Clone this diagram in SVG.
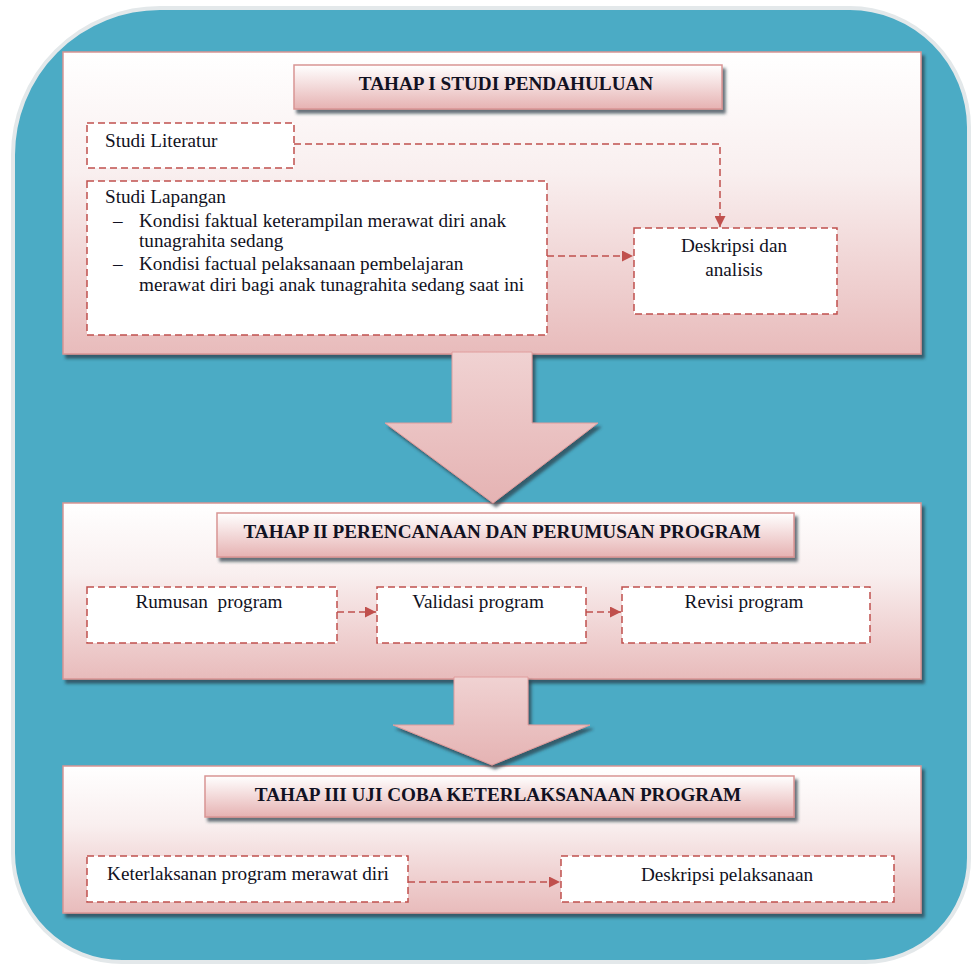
<svg xmlns="http://www.w3.org/2000/svg" width="973" height="972" viewBox="0 0 973 972">
<style>
.panel{fill:url(#gPanel);stroke:#D99594;stroke-width:1.5;filter:url(#sh)}
.title{fill:url(#gTitle);stroke:#D99594;stroke-width:1.5;filter:url(#sh)}
.box{fill:#FFFFFF;stroke:#C0504D;stroke-width:1.5;stroke-dasharray:7 4}
.big{fill:url(#gArrow);stroke:#E09C9C;stroke-width:1;filter:url(#sh)}
.conn{fill:none;stroke:#C0504D;stroke-width:1.5;stroke-dasharray:7 4;marker-end:url(#ah)}
text{font-family:"Liberation Serif","Times New Roman",serif;font-size:19.2px;fill:#111122}
.t{font-weight:bold;text-anchor:middle}
.c{text-anchor:middle}
</style>
<defs>
<linearGradient id="gPanel" x1="0" y1="0" x2="0" y2="1">
<stop offset="0" stop-color="#FFFFFF"/><stop offset="0.4" stop-color="#F9EFEF"/><stop offset="1" stop-color="#E8BBBB"/>
</linearGradient>
<linearGradient id="gTitle" x1="0" y1="0" x2="0" y2="1">
<stop offset="0" stop-color="#FFFFFF"/><stop offset="1" stop-color="#E6B2B2"/>
</linearGradient>
<linearGradient id="gArrow" x1="0" y1="0" x2="0" y2="1">
<stop offset="0" stop-color="#F0D2D2"/><stop offset="1" stop-color="#E5B3B3"/>
</linearGradient>
<filter id="sh" x="-10%" y="-10%" width="120%" height="130%">
<feDropShadow dx="3" dy="4" stdDeviation="1.5" flood-color="#2a3a45" flood-opacity="0.7"/>
</filter>
<marker id="ah" viewBox="0 0 10 10" refX="10" refY="5" markerWidth="11" markerHeight="11" markerUnits="userSpaceOnUse" orient="auto">
<path d="M0,0 L10,5 L0,10 Z" fill="#C0504D"/>
</marker>
</defs>
<rect width="973" height="972" fill="#FFFFFF"/>
<g id="background">
<path d="M 160 8 H 850 A 120 120 0 0 1 969 127 V 858 A 104 104 0 0 1 865 962 H 122 A 109 109 0 0 1 13 853 V 155 A 147 147 0 0 1 160 8 Z" fill="#4BABC5" stroke="#E3E8EA" stroke-width="4"/>
</g>
<g id="panel1"><rect class="panel" x="63" y="52" width="858" height="302"/></g>
<g id="panel2"><rect class="panel" x="63" y="503" width="858" height="176"/></g>
<g id="panel3"><rect class="panel" x="63" y="766" width="858" height="147"/></g>
<g id="bigArrow1"><polygon class="big" points="452,352 532,352 532,423 598,423 493,503 385,423 452,423"/></g>
<g id="bigArrow2"><polygon class="big" points="454,677 528,677 528,725 590,725 492,765 393,725 454,725"/></g>
<g id="title1"><rect class="title" x="294" y="65" width="428" height="44"/><text class="t" x="506" y="90">TAHAP I STUDI PENDAHULUAN</text></g>
<g id="title2"><rect class="title" x="217" y="513" width="577" height="44"/><text class="t" x="502" y="538">TAHAP II PERENCANAAN DAN PERUMUSAN PROGRAM</text></g>
<g id="title3"><rect class="title" x="205" y="776" width="589" height="41"/><text class="t" x="498" y="801">TAHAP III UJI COBA KETERLAKSANAAN PROGRAM</text></g>
<g id="studiLiteratur"><rect class="box" x="87" y="123" width="207" height="45"/><text x="105" y="147">Studi Literatur</text></g>
<g id="studiLapangan"><rect class="box" x="87" y="181" width="460" height="154"/>
<text x="105" y="203">Studi Lapangan</text>
<text x="113" y="227">–</text><text x="139" y="227">Kondisi faktual keterampilan merawat diri anak</text>
<text x="139" y="247">tunagrahita sedang</text>
<text x="113" y="270">–</text><text x="139" y="270">Kondisi factual pelaksanaan pembelajaran</text>
<text x="139" y="291">merawat diri bagi anak tunagrahita sedang saat ini</text>
</g>
<g id="deskripsiAnalisis"><rect class="box" x="634" y="228" width="203" height="86"/><text class="c" x="734" y="252">Deskripsi dan</text><text class="c" x="734" y="276">analisis</text></g>
<g id="rumusan"><rect class="box" x="87" y="587" width="250" height="56"/><text class="c" x="209" y="608" xml:space="preserve">Rumusan  program</text></g>
<g id="validasi"><rect class="box" x="377" y="587" width="209" height="56"/><text class="c" x="478" y="608">Validasi program</text></g>
<g id="revisi"><rect class="box" x="622" y="587" width="248" height="56"/><text class="c" x="744" y="608">Revisi program</text></g>
<g id="keterlaksanan"><rect class="box" x="87" y="856" width="321" height="46"/><text class="c" x="248" y="880">Keterlaksanan program merawat diri</text></g>
<g id="deskripsiPelaksanaan"><rect class="box" x="561" y="856" width="333" height="46"/><text class="c" x="727" y="881">Deskripsi pelaksanaan</text></g>
<g id="connectors">
<path class="conn" d="M 294 144 H 720 V 227"/>
<path class="conn" d="M 547 256 H 633"/>
<path class="conn" d="M 337 612 H 376"/>
<path class="conn" d="M 586 612 H 621"/>
<path class="conn" d="M 408 882 H 560"/>
</g>
</svg>
